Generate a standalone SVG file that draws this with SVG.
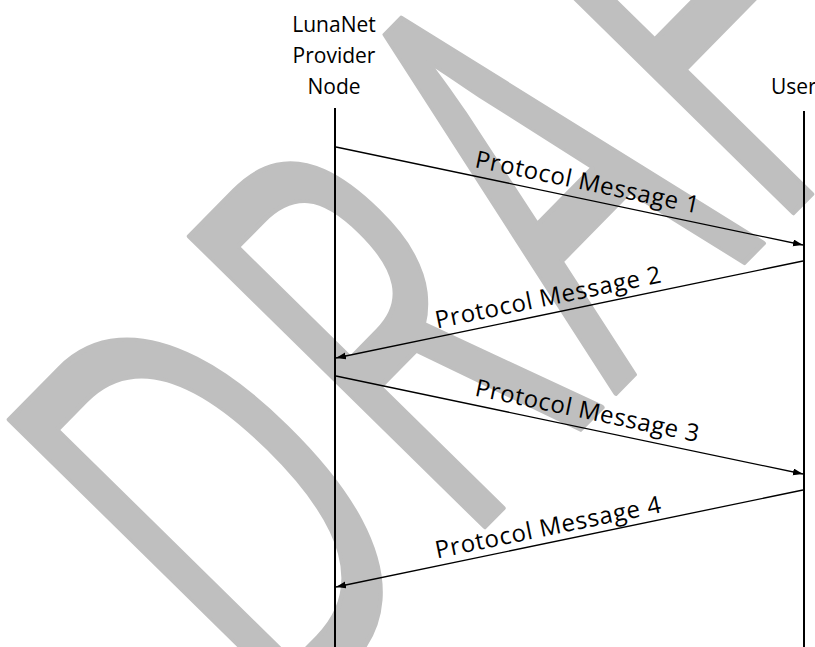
<svg xmlns="http://www.w3.org/2000/svg" width="815" height="647" viewBox="0 0 815 647">
  <defs>
    <style>
      .wm { font-family: "Open Sans", "Noto Sans", sans-serif; font-size: 580px; fill: #bfbfbf; stroke: #bfbfbf; stroke-width: 5; stroke-linejoin: round; }
      .hdr { font-family: "Open Sans", "Noto Sans", sans-serif; font-size: 21px; fill: #000; }
      .lbl { font-family: "Open Sans", "Noto Sans", sans-serif; font-size: 24px; fill: #000; }
      .life { stroke: #000; stroke-width: 2; fill: none; }
      .msg { stroke: #000; stroke-width: 1.3; fill: none; marker-end: url(#ah); }
    </style>
    <marker id="ah" markerUnits="userSpaceOnUse" markerWidth="11" markerHeight="8" refX="10" refY="3.5" orient="auto">
      <path d="M0,0 L10,3.5 L0,7 Z" fill="#000"/>
    </marker>
  </defs>
  <rect width="815" height="647" fill="#fff"/>

  <g id="watermark">
    <text class="wm" transform="translate(281 734) rotate(-45.5) scale(0.58 1)"><tspan x="0" y="0">D</tspan><tspan x="443" y="0" style="font-stretch:90%">R</tspan><tspan x="822" y="0">A</tspan><tspan x="1202" y="0">F</tspan><tspan x="1503" y="0">T</tspan></text>
  </g>

  <g id="node-provider">
    <text class="hdr" text-anchor="middle" x="334" y="32">LunaNet</text>
    <text class="hdr" text-anchor="middle" x="334" y="63">Provider</text>
    <text class="hdr" text-anchor="middle" x="334" y="93.5">Node</text>
    <line class="life" x1="335" y1="108" x2="335" y2="647"/>
  </g>

  <g id="node-user">
    <text class="hdr" x="771" y="93.5">User</text>
    <line class="life" x1="804" y1="111" x2="804" y2="647"/>
  </g>

  <g id="connectors">
    <line class="msg" x1="336" y1="147" x2="803" y2="245"/>
    <line class="msg" x1="803" y1="261" x2="336" y2="358"/>
    <line class="msg" x1="336" y1="376" x2="803" y2="474"/>
    <line class="msg" x1="803" y1="490" x2="336" y2="587"/>
    <text class="lbl" transform="translate(474 167) rotate(11.8)" textLength="228" lengthAdjust="spacing">Protocol Message 1</text>
    <text class="lbl" transform="translate(437 328.5) rotate(-11.6)" textLength="230" lengthAdjust="spacing">Protocol Message 2</text>
    <text class="lbl" transform="translate(474 395.5) rotate(11.8)" textLength="228" lengthAdjust="spacing">Protocol Message 3</text>
    <text class="lbl" transform="translate(437 558.5) rotate(-11.6)" textLength="230" lengthAdjust="spacing">Protocol Message 4</text>
  </g>
</svg>
